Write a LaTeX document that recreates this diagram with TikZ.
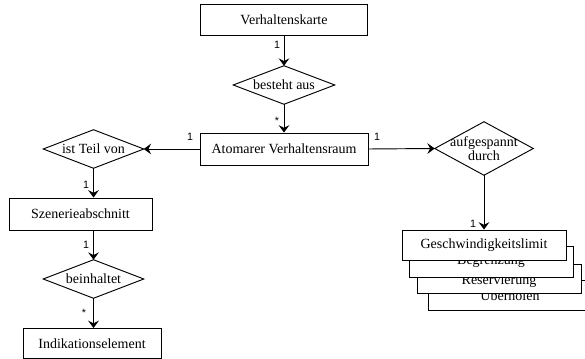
\documentclass[tikz,border=0pt]{standalone}
\usepackage{fontspec}
\setmainfont{Liberation Serif}
\newfontfamily\lblfont{Liberation Sans}
\usetikzlibrary{arrows.meta}
\begin{document}
\begin{tikzpicture}[x=0.75pt,y=-0.75pt,
  box/.style={draw=black, line width=0.7pt, fill=white, inner sep=0pt, font=\fontsize{10.5}{12}\selectfont},
  lowtext/.style={text height=10pt, text depth=2.3pt},
  dia/.style={inner sep=0pt, align=center, font=\fontsize{10.5}{10.5}\selectfont},
  diaborder/.style={draw=black, line width=0.7pt},
  arr/.style={draw=black, line width=0.7pt, -{Stealth[length=5.5pt,width=8pt,inset=2pt]}},
  lbl/.style={font=\lblfont\fontsize{8}{9}\selectfont, inner sep=0pt}]
\useasboundingbox (0,0) rectangle (585,359);

% boxes
\node[box, minimum width=125.25pt, minimum height=23.25pt] (vk) at (284,19.5) {Verhaltenskarte};
\node[box, minimum width=126pt, minimum height=24pt] (atom) at (284,149) {Atomarer Verhaltensraum};
\node[box, minimum width=107.25pt, minimum height=24pt] (szen) at (80.5,214) {Szenerieabschnitt};
\node[box, minimum width=103.5pt, minimum height=22.5pt] (indik) at (92,343.5) {Indikationselement};

% diamonds
\node[dia, minimum width=75.75pt, minimum height=28.5pt] (besteht) at (284,85) {besteht aus};
\node[dia, minimum width=75pt, minimum height=28.5pt] (teil) at (93.5,149) {ist Teil von};
\node[dia, minimum width=75pt, minimum height=28.5pt] (beinh) at (93.5,279) {beinhaltet};
\node[dia, minimum width=73.5pt, minimum height=39.75pt] (aufg) at (484,148.5) {aufgespannt\\durch};
\foreach \n in {besteht,teil,beinh,aufg}
  \draw[diaborder] (\n.north) -- (\n.east) -- (\n.south) -- (\n.west) -- cycle;

% stacked boxes
\node[box, lowtext, minimum width=123pt, minimum height=22.5pt] (b4) at (510,295.5) {Überholen};
\node[box, lowtext, minimum width=123pt, minimum height=21.75pt] (b3) at (499,279) {Reservierung};
\node[box, minimum width=123pt, minimum height=23.25pt] (b2) at (491,261.5) {Begrenzung};
\node[box, minimum width=123pt, minimum height=22.5pt] (b1) at (484,245) {Geschwindigkeitslimit};

% connectors
\draw[arr] (vk.south) -- (besteht.north);
\draw[arr] (besteht.south) -- (atom.north);
\draw[arr] (atom.west) -- (teil.east);
\draw[arr] (atom.east) -- (aufg.west);
\draw[arr] (teil.south) -- (teil.south |- szen.north);
\draw[arr] (beinh.north |- szen.south) -- (beinh.north);
\draw[arr] (beinh.south) -- (beinh.south |- indik.north);
\draw[arr] (aufg.south) -- (b1.north);

% multiplicities
\node[lbl] (m1) at (277,45) {1};
\node[lbl] (m2) at (277,121) {*};
\node[lbl] (m3) at (190,137) {1};
\node[lbl] (m4) at (377,137) {1};
\node[lbl] (m5) at (86,185) {1};
\node[lbl] (m6) at (86,245) {1};
\node[lbl] (m7) at (84,313) {*};
\node[lbl] (m8) at (473,224) {1};
\end{tikzpicture}
\end{document}
